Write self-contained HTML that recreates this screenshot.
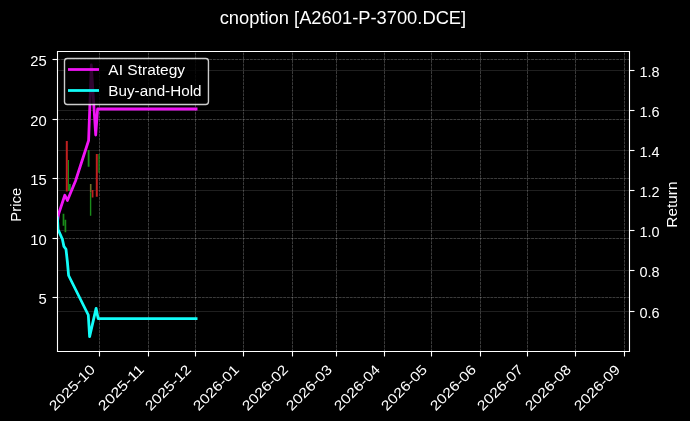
<!DOCTYPE html>
<html><head><meta charset="utf-8"><title>cnoption [A2601-P-3700.DCE]</title><style>html,body{margin:0;padding:0;background:#000;width:690px;height:421px;overflow:hidden}</style></head><body>
<svg width="690" height="421" viewBox="0 0 690 421" style="display:block;will-change:transform">
<defs><clipPath id="ax"><rect x="57.50" y="51.50" width="572.00" height="300.00"/></clipPath></defs>
<rect width="690" height="421" fill="#000"/>
<g fill="none" stroke="#fff" stroke-width="1">
<path d="M99.5 351.5 V51.5" stroke-opacity="0.23" stroke-dasharray="2.9 0.8"/>
<path d="M148.5 351.5 V51.5" stroke-opacity="0.23" stroke-dasharray="2.9 0.8"/>
<path d="M195.5 351.5 V51.5" stroke-opacity="0.23" stroke-dasharray="2.9 0.8"/>
<path d="M243.5 351.5 V51.5" stroke-opacity="0.23" stroke-dasharray="2.9 0.8"/>
<path d="M292.5 351.5 V51.5" stroke-opacity="0.23" stroke-dasharray="2.9 0.8"/>
<path d="M336.5 351.5 V51.5" stroke-opacity="0.23" stroke-dasharray="2.9 0.8"/>
<path d="M384.5 351.5 V51.5" stroke-opacity="0.23" stroke-dasharray="2.9 0.8"/>
<path d="M431.5 351.5 V51.5" stroke-opacity="0.23" stroke-dasharray="2.9 0.8"/>
<path d="M480.5 351.5 V51.5" stroke-opacity="0.23" stroke-dasharray="2.9 0.8"/>
<path d="M527.5 351.5 V51.5" stroke-opacity="0.23" stroke-dasharray="2.9 0.8"/>
<path d="M575.5 351.5 V51.5" stroke-opacity="0.23" stroke-dasharray="2.9 0.8"/>
<path d="M624.5 351.5 V51.5" stroke-opacity="0.23" stroke-dasharray="2.9 0.8"/>
<path d="M57.5 59.5 H629.5" stroke-opacity="0.23" stroke-dasharray="2.9 0.8"/>
<path d="M57.5 119.5 H629.5" stroke-opacity="0.23" stroke-dasharray="2.9 0.8"/>
<path d="M57.5 178.5 H629.5" stroke-opacity="0.23" stroke-dasharray="2.9 0.8"/>
<path d="M57.5 238.5 H629.5" stroke-opacity="0.23" stroke-dasharray="2.9 0.8"/>
<path d="M57.5 297.5 H629.5" stroke-opacity="0.23" stroke-dasharray="2.9 0.8"/>
<path d="M57.5 70.5 H629.5" stroke-opacity="0.12" />
<path d="M57.5 110.5 H629.5" stroke-opacity="0.12" />
<path d="M57.5 150.5 H629.5" stroke-opacity="0.12" />
<path d="M57.5 190.5 H629.5" stroke-opacity="0.12" />
<path d="M57.5 230.5 H629.5" stroke-opacity="0.12" />
<path d="M57.5 270.5 H629.5" stroke-opacity="0.12" />
<path d="M57.5 311.5 H629.5" stroke-opacity="0.12" />
</g>
<g clip-path="url(#ax)" fill="none">
<path d="M63.50 213.70 V225.80" stroke="#1a8c1a" stroke-width="1.7"/>
<path d="M65.40 219.80 V232.30" stroke="#1a8c1a" stroke-width="1.7"/>
<path d="M66.80 141.00 V191.50" stroke="#c02020" stroke-width="2.0"/>
<path d="M68.50 160.00 V191.00" stroke="#1a8c1a" stroke-width="1.0"/>
<path d="M69.60 184.00 V191.00" stroke="#1a8c1a" stroke-width="2.4"/>
<path d="M88.60 150.00 V166.80" stroke="#1a8c1a" stroke-width="1.8"/>
<path d="M90.60 192.40 V215.70" stroke="#1a8c1a" stroke-width="1.4"/>
<path d="M90.70 184.00 V192.40" stroke="#707028" stroke-width="1.6"/>
<path d="M92.60 190.00 V197.60" stroke="#c02020" stroke-width="1.7"/>
<path d="M96.80 154.00 V196.80" stroke="#c02020" stroke-width="2.0"/>
<path d="M99.00 154.00 V172.80" stroke="#1a8c1a" stroke-width="1.3"/>
</g>
<g clip-path="url(#ax)" fill="none" stroke-width="2.78" stroke-linejoin="round" stroke-linecap="square">
<path d="M57.45 222.00 L58.60 214.00 L64.80 195.20 L67.40 200.50 L75.50 181.00 L88.60 140.50 L91.30 65.00 L95.70 135.00 L97.60 109.00 L196.10 109.00" stroke="#f014f5" stroke-opacity="1.0"/>
<path d="M57.45 218.00 L58.10 229.50 L62.40 239.30 L63.90 246.40 L66.00 249.30 L67.40 262.00 L68.60 275.50 L88.30 315.00 L89.60 336.60 L96.10 308.40 L98.20 318.70 L196.10 318.70" stroke="#12fcf8" stroke-opacity="1.0"/>
</g>
<g fill="none" stroke="#fff" stroke-width="1.11" stroke-linecap="square">
<path d="M57.5 51.5 H629.5 V351.5 H57.5 Z"/>
</g>
<g fill="none" stroke="#fff" stroke-width="1.11">
<path d="M99.5 351.5 v5"/>
<path d="M148.5 351.5 v5"/>
<path d="M195.5 351.5 v5"/>
<path d="M243.5 351.5 v5"/>
<path d="M292.5 351.5 v5"/>
<path d="M336.5 351.5 v5"/>
<path d="M384.5 351.5 v5"/>
<path d="M431.5 351.5 v5"/>
<path d="M480.5 351.5 v5"/>
<path d="M527.5 351.5 v5"/>
<path d="M575.5 351.5 v5"/>
<path d="M624.5 351.5 v5"/>
<path d="M57.5 59.5 h-5"/>
<path d="M57.5 119.5 h-5"/>
<path d="M57.5 178.5 h-5"/>
<path d="M57.5 238.5 h-5"/>
<path d="M57.5 297.5 h-5"/>
<path d="M629.5 70.5 h5"/>
<path d="M629.5 110.5 h5"/>
<path d="M629.5 150.5 h5"/>
<path d="M629.5 190.5 h5"/>
<path d="M629.5 230.5 h5"/>
<path d="M629.5 270.5 h5"/>
<path d="M629.5 311.5 h5"/>
</g>
<rect x="64.50" y="58.46" width="143.95" height="46.09" rx="2.78" fill="#000" fill-opacity="0.8" stroke="#fff" stroke-opacity="0.8" stroke-width="1.39"/>
<g fill="none" stroke-width="2.78" stroke-linecap="square">
<path d="M69.40 69.50 H97.60" stroke="#f014f5"/>
<path d="M69.40 90.50 H97.60" stroke="#12fcf8"/>
</g>
<g fill="#fff" font-family="'Liberation Sans', sans-serif">
<text transform="translate(54.82 411.52) rotate(-45)" font-size="13.889" textLength="58.032" lengthAdjust="spacingAndGlyphs">2025-10</text>
<text transform="translate(103.82 411.52) rotate(-45)" font-size="13.889" textLength="58.032" lengthAdjust="spacingAndGlyphs">2025-11</text>
<text transform="translate(150.82 411.52) rotate(-45)" font-size="13.889" textLength="58.032" lengthAdjust="spacingAndGlyphs">2025-12</text>
<text transform="translate(198.82 411.52) rotate(-45)" font-size="13.889" textLength="58.032" lengthAdjust="spacingAndGlyphs">2026-01</text>
<text transform="translate(247.82 411.52) rotate(-45)" font-size="13.889" textLength="58.032" lengthAdjust="spacingAndGlyphs">2026-02</text>
<text transform="translate(291.82 411.52) rotate(-45)" font-size="13.889" textLength="58.032" lengthAdjust="spacingAndGlyphs">2026-03</text>
<text transform="translate(339.82 411.52) rotate(-45)" font-size="13.889" textLength="58.032" lengthAdjust="spacingAndGlyphs">2026-04</text>
<text transform="translate(386.82 411.52) rotate(-45)" font-size="13.889" textLength="58.032" lengthAdjust="spacingAndGlyphs">2026-05</text>
<text transform="translate(435.82 411.52) rotate(-45)" font-size="13.889" textLength="58.032" lengthAdjust="spacingAndGlyphs">2026-06</text>
<text transform="translate(482.82 411.52) rotate(-45)" font-size="13.889" textLength="58.032" lengthAdjust="spacingAndGlyphs">2026-07</text>
<text transform="translate(530.82 411.52) rotate(-45)" font-size="13.889" textLength="58.032" lengthAdjust="spacingAndGlyphs">2026-08</text>
<text transform="translate(579.82 411.52) rotate(-45)" font-size="13.889" textLength="58.032" lengthAdjust="spacingAndGlyphs">2026-09</text>
<text x="46.78" y="65.78" font-size="13.889" textLength="16.436" lengthAdjust="spacingAndGlyphs" text-anchor="end">25</text>
<text x="46.78" y="125.78" font-size="13.889" textLength="16.436" lengthAdjust="spacingAndGlyphs" text-anchor="end">20</text>
<text x="46.78" y="184.78" font-size="13.889" textLength="16.436" lengthAdjust="spacingAndGlyphs" text-anchor="end">15</text>
<text x="46.78" y="244.78" font-size="13.889" textLength="16.436" lengthAdjust="spacingAndGlyphs" text-anchor="end">10</text>
<text x="46.78" y="303.78" font-size="13.889" textLength="8.218" lengthAdjust="spacingAndGlyphs" text-anchor="end">5</text>
<text transform="translate(21.36 204.70) rotate(-90)" font-size="13.889" textLength="33.882" lengthAdjust="spacingAndGlyphs" text-anchor="middle">Price</text>
<text x="342.95" y="24.02" font-size="17.500" textLength="246.476" lengthAdjust="spacingAndGlyphs" text-anchor="middle">cnoption [A2601-P-3700.DCE]</text>
<text x="639.57" y="76.98" font-size="13.889" textLength="20.100" lengthAdjust="spacingAndGlyphs">1.8</text>
<text x="639.57" y="116.98" font-size="13.889" textLength="20.100" lengthAdjust="spacingAndGlyphs">1.6</text>
<text x="639.57" y="156.98" font-size="13.889" textLength="20.100" lengthAdjust="spacingAndGlyphs">1.4</text>
<text x="639.57" y="196.98" font-size="13.889" textLength="20.100" lengthAdjust="spacingAndGlyphs">1.2</text>
<text x="639.57" y="236.98" font-size="13.889" textLength="20.100" lengthAdjust="spacingAndGlyphs">1.0</text>
<text x="639.57" y="276.98" font-size="13.889" textLength="20.100" lengthAdjust="spacingAndGlyphs">0.8</text>
<text x="639.57" y="317.98" font-size="13.889" textLength="20.100" lengthAdjust="spacingAndGlyphs">0.6</text>
<text transform="translate(677.42 204.60) rotate(-90)" font-size="13.889" textLength="46.087" lengthAdjust="spacingAndGlyphs" text-anchor="middle">Return</text>
<text x="108.39" y="74.85" font-size="13.889" textLength="76.749" lengthAdjust="spacingAndGlyphs">AI Strategy</text>
<text x="108.39" y="95.94" font-size="13.889" textLength="93.139" lengthAdjust="spacingAndGlyphs">Buy-and-Hold</text>
</g>
</svg>
</body></html>
